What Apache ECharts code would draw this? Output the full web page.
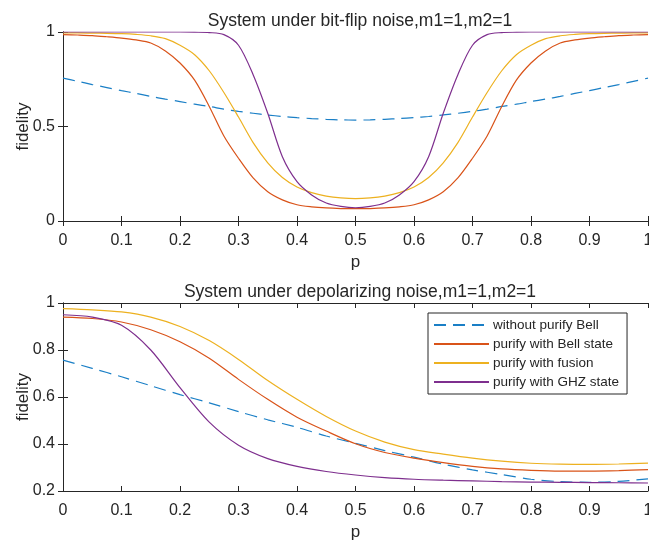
<!DOCTYPE html>
<html>
<head>
<meta charset="utf-8">
<script src="https://cdn.jsdelivr.net/npm/echarts@6/dist/echarts.min.js"></script>
<style>
  html, body { margin: 0; padding: 0; background: #fff; }
  #chart { width: 649px; height: 540px; }
</style>
</head>
<body>
<div id="chart"></div>
<script>
// names shared by both panels
const seriesNames = ['without purify Bell', 'purify with Bell state', 'purify with fusion', 'purify with GHZ state'];
const seriesColors = ['#1a7fc6', '#D95319', '#EDB120', '#7E2F8E'];

// top panel: bit-flip noise, p = 0, 0.025, ..., 1
const pTop = [0, 0.025, 0.05, 0.075, 0.1, 0.125, 0.15, 0.175, 0.2, 0.225, 0.25, 0.275, 0.3, 0.325, 0.35, 0.375, 0.4, 0.425, 0.45, 0.475, 0.5,
  0.525, 0.55, 0.575, 0.6, 0.625, 0.65, 0.675, 0.7, 0.725, 0.75, 0.775, 0.8, 0.825, 0.85, 0.875, 0.9, 0.925, 0.95, 0.975, 1];
const bellTop = [0.756, 0.739, 0.722, 0.706, 0.69, 0.675, 0.659, 0.645, 0.632, 0.618, 0.606, 0.592, 0.58, 0.57, 0.561, 0.553, 0.547, 0.542, 0.538, 0.535, 0.534,
  0.535, 0.538, 0.542, 0.547, 0.553, 0.561, 0.57, 0.58, 0.592, 0.606, 0.618, 0.632, 0.645, 0.659, 0.675, 0.69, 0.706, 0.722, 0.739, 0.756];
const bellStateTop = [0.986, 0.984, 0.981, 0.975, 0.968, 0.958, 0.942, 0.9, 0.836, 0.745, 0.606, 0.45, 0.332, 0.228, 0.155, 0.112, 0.086, 0.075, 0.069, 0.066, 0.065,
  0.066, 0.069, 0.075, 0.086, 0.112, 0.155, 0.228, 0.332, 0.45, 0.606, 0.745, 0.836, 0.9, 0.942, 0.958, 0.968, 0.975, 0.981, 0.984, 0.986];
const fusionTop = [0.995, 0.995, 0.994, 0.993, 0.991, 0.987, 0.98, 0.965, 0.93, 0.88, 0.795, 0.68, 0.55, 0.415, 0.308, 0.23, 0.18, 0.15, 0.132, 0.122, 0.118,
  0.122, 0.132, 0.15, 0.18, 0.23, 0.308, 0.415, 0.55, 0.68, 0.795, 0.88, 0.93, 0.965, 0.98, 0.987, 0.991, 0.993, 0.994, 0.995, 0.995];
const ghzTop = [1.0, 1.0, 1.0, 1.0, 1.0, 1.0, 1.0, 1.0, 1.0, 0.999, 0.997, 0.986, 0.93, 0.774, 0.57, 0.34, 0.208, 0.138, 0.095, 0.077, 0.07,
  0.077, 0.095, 0.138, 0.208, 0.34, 0.57, 0.774, 0.93, 0.986, 0.997, 0.999, 1.0, 1.0, 1.0, 1.0, 1.0, 1.0, 1.0, 1.0, 1.0];

// bottom panel: depolarizing noise
const pBottom = [0, 0.05, 0.1, 0.15, 0.2, 0.25, 0.3, 0.35, 0.4, 0.45, 0.5, 0.55, 0.6, 0.65, 0.7, 0.75, 0.8, 0.85, 0.9, 0.95, 1];
const bellBottom = [0.757, 0.722, 0.686, 0.648, 0.61, 0.575, 0.538, 0.503, 0.471, 0.434, 0.403, 0.372, 0.344, 0.314, 0.29, 0.27, 0.25, 0.24, 0.237, 0.241, 0.252];
const bellStateBottom = [0.94, 0.934, 0.919, 0.886, 0.835, 0.765, 0.675, 0.59, 0.514, 0.455, 0.401, 0.364, 0.34, 0.321, 0.305, 0.294, 0.288, 0.285, 0.285, 0.287, 0.291];
const fusionBottom = [0.976, 0.971, 0.962, 0.94, 0.9, 0.84, 0.76, 0.67, 0.59, 0.517, 0.455, 0.408, 0.376, 0.357, 0.34, 0.327, 0.318, 0.314, 0.313, 0.315, 0.319];
const ghzBottom = [0.95, 0.94, 0.905, 0.8, 0.64, 0.493, 0.395, 0.338, 0.305, 0.283, 0.268, 0.257, 0.25, 0.246, 0.243, 0.24, 0.238, 0.237, 0.236, 0.235, 0.234];

const topTitle = 'System under bit-flip noise,m1=1,m2=1';
const bottomTitle = 'System under depolarizing noise,m1=1,m2=1';

const axisColor = '#262626';
const font = '"Liberation Sans", Arial, Helvetica, sans-serif';

function mainX(gridIndex) {
  return {
    type: 'value', gridIndex: gridIndex, position: 'bottom',
    min: 0, max: 1, interval: 0.1,
    name: 'p', nameLocation: 'middle', nameGap: 33,
    nameTextStyle: {color: axisColor, fontSize: 17, fontFamily: font},
    axisLine: {show: true, lineStyle: {color: axisColor, width: 1}},
    axisTick: {show: true, inside: true, length: 5, lineStyle: {color: axisColor}},
    axisLabel: {color: axisColor, fontSize: 16, fontFamily: font, margin: 12},
    splitLine: {show: false}
  };
}

function boxX(gridIndex) {
  return {
    type: 'value', gridIndex: gridIndex, position: 'top',
    min: 0, max: 1, interval: 0.1,
    axisLine: {show: true, lineStyle: {color: axisColor, width: 1}},
    axisTick: {show: true, inside: true, length: 5, lineStyle: {color: axisColor}},
    axisLabel: {show: false},
    splitLine: {show: false}
  };
}

function mainY(gridIndex, min, interval) {
  return {
    type: 'value', gridIndex: gridIndex, position: 'left',
    min: min, max: 1, interval: interval,
    name: 'fidelity', nameLocation: 'middle', nameGap: 31, nameMoveOverlap: false,
    nameTextStyle: {color: axisColor, fontSize: 17, fontFamily: font},
    axisLine: {show: true, lineStyle: {color: axisColor, width: 1}},
    axisTick: {show: true, inside: true, length: 5, lineStyle: {color: axisColor}},
    axisLabel: {color: axisColor, fontSize: 16, fontFamily: font, margin: 8},
    splitLine: {show: false}
  };
}

function boxY(gridIndex, min, interval) {
  return {
    type: 'value', gridIndex: gridIndex, position: 'right',
    min: min, max: 1, interval: interval,
    axisLine: {show: true, lineStyle: {color: axisColor, width: 1}},
    axisTick: {show: true, inside: true, length: 5, lineStyle: {color: axisColor}},
    axisLabel: {show: false},
    splitLine: {show: false}
  };
}

function makeSeries(k, xs, ys, xIdx, yIdx) {
  let data = [];
  for (let i = 0; i < xs.length; i++) {
    data.push([xs[i], ys[i]]);
  }
  return {
    name: seriesNames[k],
    type: 'line',
    xAxisIndex: xIdx,
    yAxisIndex: yIdx,
    data: data,
    smooth: 0.3,
    symbol: 'none',
    color: seriesColors[k],
    lineStyle: {color: seriesColors[k], width: 1.2, type: k === 0 ? [12, 7] : 'solid'},
    animation: false
  };
}

const topData = [bellTop, bellStateTop, fusionTop, ghzTop];
const bottomData = [bellBottom, bellStateBottom, fusionBottom, ghzBottom];

let series = [];
for (let k = 0; k < 4; k++) {
  series.push(makeSeries(k, pTop, topData[k], 0, 0));
}
for (let k = 0; k < 4; k++) {
  series.push(makeSeries(k, pBottom, bottomData[k], 2, 2));
}

const chart = echarts.init(document.getElementById('chart'), null, {renderer: 'canvas'});

chart.setOption({
  backgroundColor: '#fff',
  animation: false,
  title: [
    {text: topTitle, left: 355, top: 7, textAlign: 'center',
      textStyle: {color: axisColor, fontSize: 17.5, fontWeight: 'normal', fontFamily: font}},
    {text: bottomTitle, left: 355, top: 278, textAlign: 'center',
      textStyle: {color: axisColor, fontSize: 17.5, fontWeight: 'normal', fontFamily: font}}
  ],
  grid: [
    {left: 63, top: 32, width: 585, height: 189, outerBoundsMode: 'none', containLabel: false},
    {left: 63, top: 303, width: 585, height: 188, outerBoundsMode: 'none', containLabel: false}
  ],
  xAxis: [mainX(0), boxX(0), mainX(1), boxX(1)],
  yAxis: [mainY(0, 0, 0.5), boxY(0, 0, 0.5), mainY(1, 0.2, 0.2), boxY(1, 0.2, 0.2)],
  legend: {
    data: seriesNames,
    orient: 'vertical',
    left: 428,
    top: 313,
    padding: [5, 8, 5, 5],
    itemGap: 5,
    itemWidth: 55,
    itemHeight: 14,
    selectedMode: false,
    backgroundColor: '#fff',
    borderColor: axisColor,
    borderWidth: 1,
    borderRadius: 0,
    itemStyle: {opacity: 0},
    textStyle: {color: axisColor, fontSize: 13.5, fontFamily: font, padding: [0, 0, 0, -1]}
  },
  series: series
});
</script>
</body>
</html>
